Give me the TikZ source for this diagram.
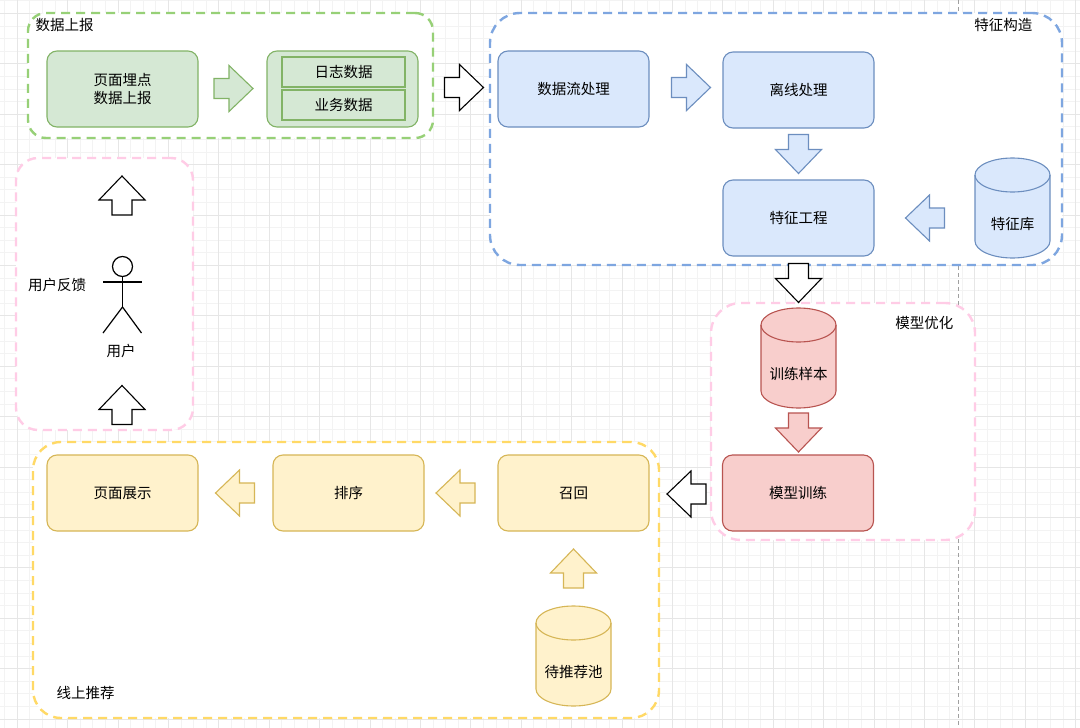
\documentclass[tikz,border=0pt]{standalone}
\usepackage{fontspec}
\setmainfont{Noto Sans CJK SC}
\definecolor{gfill}{HTML}{D5E8D4}\definecolor{gline}{HTML}{82B366}
\definecolor{bfill}{HTML}{DAE8FC}\definecolor{bline}{HTML}{6C8EBF}
\definecolor{rfill}{HTML}{F8CECC}\definecolor{rline}{HTML}{B85450}
\definecolor{yfill}{HTML}{FFF2CC}\definecolor{yline}{HTML}{D6B656}
\definecolor{cgreen}{HTML}{97D077}\definecolor{cblue}{HTML}{7EA6E0}
\definecolor{cpink}{HTML}{FFCCE6}\definecolor{cyellow}{HTML}{FFD966}
\definecolor{gridmin}{HTML}{F3F3F3}\definecolor{gridmaj}{HTML}{E6E6E6}
\definecolor{guidec}{HTML}{A0A0A0}
\tikzset{
  cont/.style={fill=white, line width=2.4pt, dash pattern=on 9pt off 6pt, inner sep=0pt},
  box/.style={rounded corners=10pt, minimum width=151pt, minimum height=76pt, line width=1.1pt, align=center, inner sep=0pt},
  gbox/.style={box, fill=gfill, draw=gline},
  bbox/.style={box, fill=bfill, draw=bline},
  rbox/.style={box, fill=rfill, draw=rline},
  ybox/.style={box, fill=yfill, draw=yline},
  inbox/.style={minimum width=123pt, minimum height=30pt, fill=gfill, draw=gline, line width=1.1pt, inner sep=0pt},
  garr/.style={fill=gfill, draw=gline, line width=1.1pt},
  barr/.style={fill=bfill, draw=bline, line width=1.1pt},
  rarr/.style={fill=rfill, draw=rline, line width=1.1pt},
  yarr/.style={fill=yfill, draw=yline, line width=1.1pt},
  warr/.style={fill=white, draw=black, line width=1.1pt},
  arrR/.pic={\path[pic actions] (-19.5,-10) -- (-4.5,-10) -- (-4.5,-23) -- (19.5,0) -- (-4.5,23) -- (-4.5,10) -- (-19.5,10) -- cycle;},
  arrL/.pic={\path[pic actions] (19.5,-10) -- (4.5,-10) -- (4.5,-23) -- (-19.5,0) -- (4.5,23) -- (4.5,10) -- (19.5,10) -- cycle;},
  arrD/.pic={\path[pic actions] (-10,-19.5) -- (-10,-4.5) -- (-23,-4.5) -- (0,19.5) -- (23,-4.5) -- (10,-4.5) -- (10,-19.5) -- cycle;},
  arrU/.pic={\path[pic actions] (-10,19.5) -- (-10,4.5) -- (-23,4.5) -- (0,-19.5) -- (23,4.5) -- (10,4.5) -- (10,19.5) -- cycle;},
  lbl/.style={inner sep=0pt}
}
\newcommand\mycyl[5]{%
  \draw[#5] (#1,#2+17) -- (#1,#4-17) arc[start angle=180,end angle=0,x radius={(#3-#1)/2},y radius=17]
    -- (#3,#2+17) arc[start angle=0,end angle=-180,x radius={(#3-#1)/2},y radius=17] -- cycle;
  \draw[#5, fill=none] (#1,#2+17) arc[start angle=180,end angle=0,x radius={(#3-#1)/2},y radius=17];}
\begin{document}
\begin{tikzpicture}[x=1pt,y=-1pt,font=\fontsize{14.5}{18.5}\selectfont]
\fill[white] (0,0) rectangle (1080,728);
\useasboundingbox (0,0) rectangle (1080,728);
% grid
\foreach \i in {0,...,86} \draw[gridmin, line width=0.8pt] ({4.5+12.6*\i},0) -- ({4.5+12.6*\i},728);
\foreach \i in {0,...,58} \draw[gridmin, line width=0.8pt] (0,{0.7+12.6*\i}) -- (1080,{0.7+12.6*\i});
\foreach \i in {0,...,21} \draw[gridmaj, line width=0.8pt] ({17.1+50.4*\i},0) -- ({17.1+50.4*\i},728);
\foreach \i in {0,...,14} \draw[gridmaj, line width=0.8pt] (0,{13.3+50.4*\i}) -- (1080,{13.3+50.4*\i});
% guide line
\draw[guidec, line width=1pt, dash pattern=on 3.5pt off 3.5pt] (958,0) -- (958,728);

% containers
\node[cont, draw=cgreen, rounded corners=18pt, minimum width=405pt, minimum height=125pt] (cData) at (230.5,75.5) {};
\node[cont, draw=cblue, rounded corners=30pt, minimum width=572pt, minimum height=252pt] (cFeat) at (776,139) {};
\node[cont, draw=cpink, rounded corners=22pt, minimum width=177pt, minimum height=272pt] (cUser) at (104.5,294) {};
\node[cont, draw=cpink, rounded corners=30pt, minimum width=264pt, minimum height=237pt] (cModel) at (843,421.5) {};
\node[cont, draw=cyellow, rounded corners=28pt, minimum width=626pt, minimum height=276pt] (cOnline) at (346,580) {};

% container titles
\node[lbl, anchor=west] (tData) at (35.5,25) {数据上报};
\node[lbl, anchor=east] (tFeat) at (1032.5,25) {特征构造};
\node[lbl, anchor=east] (tModel) at (953.5,323) {模型优化};
\node[lbl, anchor=west] (tOnline) at (56.5,693) {线上推荐};
\node[lbl] (tFeedback) at (57,285) {用户反馈};

% data report
\node[gbox] (maidian) at (122.5,89) {页面埋点\\数据上报};
\node[gbox] (datagrp) at (342.5,89) {};
\node[inbox] (rizhi) at (343.5,72) {日志数据};
\node[inbox] (yewu) at (343.5,105) {业务数据};
\pic[garr] at (233.5,88.5) {arrR};
\pic[warr] at (464,87.5) {arrR};

% feature construction
\node[bbox] (stream) at (573.5,89) {数据流处理};
\node[bbox] (offline) at (798.5,90) {离线处理};
\node[bbox] (feat) at (798.5,218) {特征工程};
\mycyl{975}{158}{1050}{258}{fill=bfill, draw=bline, line width=1.1pt}
\node[lbl] (featlib) at (1012.5,224) {特征库};
\pic[barr] at (691,87.5) {arrR};
\pic[barr] at (798.5,154) {arrD};
\pic[barr] at (925,218) {arrL};
\pic[warr] at (798.5,283) {arrD};

% model optimisation
\mycyl{761}{308}{836}{408}{fill=rfill, draw=rline, line width=1.1pt}
\node[lbl] (sample) at (798.5,374) {训练样本};
\pic[rarr] at (798.5,432.5) {arrD};
\node[rbox] (train) at (798,493) {模型训练};
\pic[warr] at (686.5,494) {arrL};

% online recommendation
\node[ybox] (show) at (122.5,493) {页面展示};
\node[ybox] (rank) at (348.5,493) {排序};
\node[ybox] (recall) at (573.5,493) {召回};
\pic[yarr] at (235,493) {arrL};
\pic[yarr] at (455.5,493) {arrL};
\pic[yarr] at (573.5,568.5) {arrU};
\mycyl{536}{606}{611}{706}{fill=yfill, draw=yline, line width=1.1pt}
\node[lbl] (pool) at (573.5,672) {待推荐池};

% user
\pic[warr] at (122,195.5) {arrU};
\pic[warr] at (122,405) {arrU};
\node[circle, draw=black, line width=1.2pt, minimum size=20pt, inner sep=0pt] (head) at (122.5,266.5) {};
\draw[line width=1.2pt] (head.south) -- (122.5,307) coordinate (hip);
\draw[line width=1.2pt] (103,282) -- (141.5,282);
\draw[line width=1.2pt] (103,333) -- (hip) -- (141.5,333);
\node[lbl] (user) at (121,351) {用户};
\end{tikzpicture}
\end{document}
